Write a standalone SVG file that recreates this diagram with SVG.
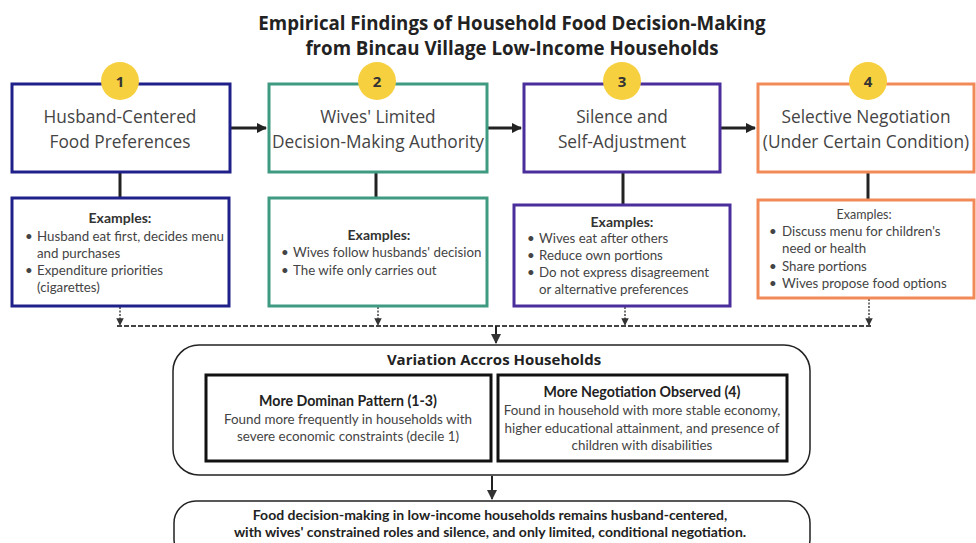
<svg xmlns="http://www.w3.org/2000/svg" width="976" height="543" viewBox="0 0 976 543">
<defs>
<style>
.title{font-family:"Open Sans","Liberation Sans",sans-serif;font-weight:700;font-size:18.7px;fill:#222;text-anchor:middle}
.head{font-family:"Open Sans","Liberation Sans",sans-serif;font-size:17.3px;fill:#444;text-anchor:middle}
.num{font-family:"Open Sans","Liberation Sans",sans-serif;font-weight:700;font-size:15px;fill:#333;text-anchor:middle}
.ex{font-family:Lato,"Liberation Sans",sans-serif;font-weight:700;font-size:14px;fill:#333;text-anchor:middle}
.exn{font-family:Lato,"Liberation Sans",sans-serif;font-size:12.5px;fill:#444;text-anchor:middle}
.b{font-family:Lato,"Liberation Sans",sans-serif;font-size:13.3px;fill:#444}
.vt{font-family:"Open Sans","Liberation Sans",sans-serif;font-weight:700;font-size:15px;fill:#222;text-anchor:middle}
.sh{font-family:Lato,"Liberation Sans",sans-serif;font-weight:700;font-size:14.2px;fill:#222;text-anchor:middle}
.st{font-family:Lato,"Liberation Sans",sans-serif;font-size:13.4px;fill:#444;text-anchor:middle}
.ft{font-family:Lato,"Liberation Sans",sans-serif;font-weight:700;font-size:14px;fill:#222;text-anchor:middle}
.badge{fill:#f6d03f}
.box{fill:#fff;stroke-width:3}
.solid{stroke:#222;stroke-width:3;fill:none}
.dash{stroke:#444;stroke-width:2;fill:none;stroke-dasharray:5 2}
.dot{stroke:#444;stroke-width:1.5;fill:none;stroke-dasharray:2 1.5}
</style>
<marker id="ah" viewBox="0 0 10 10" refX="9" refY="5" markerWidth="3.5" markerHeight="3.5" orient="auto"><path d="M0,0 L10,5 L0,10 z" fill="#222"/></marker>
<marker id="ahs" viewBox="0 0 10 10" refX="9" refY="5" markerWidth="5" markerHeight="5" orient="auto"><path d="M0,0 L10,5 L0,10 z" fill="#333"/></marker>
</defs>
<rect width="976" height="543" fill="#fff"/>
<g id="title">
<text class="title" x="512" y="30">Empirical Findings of Household Food Decision-Making</text>
<text class="title" x="512" y="55">from Bincau Village Low-Income Households</text>
</g>
<g id="connectors">
<line class="solid" x1="231" y1="128" x2="266" y2="128" marker-end="url(#ah)"/>
<line class="solid" x1="488" y1="128" x2="521" y2="128" marker-end="url(#ah)"/>
<line class="solid" x1="721" y1="128" x2="755" y2="128" marker-end="url(#ah)"/>
<line class="solid" x1="120" y1="173" x2="120" y2="197"/>
<line class="solid" x1="376" y1="173" x2="376" y2="197"/>
<line class="solid" x1="623" y1="173" x2="623" y2="205"/>
<line class="solid" x1="868" y1="173" x2="868" y2="200"/>
<line class="dot" x1="120" y1="307" x2="120" y2="325" marker-end="url(#ahs)"/>
<line class="dot" x1="378" y1="307" x2="378" y2="325" marker-end="url(#ahs)"/>
<line class="dot" x1="625" y1="307" x2="625" y2="325" marker-end="url(#ahs)"/>
<line class="dot" x1="869" y1="299" x2="869" y2="325" marker-end="url(#ahs)"/>
<line class="dash" x1="117" y1="326" x2="871" y2="326"/>
<line stroke="#222" stroke-width="2" x1="496" y1="326" x2="496" y2="343" marker-end="url(#ahs)"/>
<line stroke="#222" stroke-width="2" x1="492" y1="476" x2="492" y2="499" marker-end="url(#ahs)"/>
</g>
<g id="node1">
<rect class="box" x="12" y="84" width="218" height="88" stroke="#20208a"/>
<circle class="badge" cx="120" cy="81" r="19"/>
<text class="num" x="120" y="86.5">1</text>
<text class="head" x="120" y="123">Husband-Centered</text>
<text class="head" x="120" y="148">Food Preferences</text>
</g>
<g id="node2">
<rect class="box" x="269" y="84" width="218" height="88" stroke="#3e9a80"/>
<circle class="badge" cx="377" cy="81" r="19"/>
<text class="num" x="377" y="86.5">2</text>
<text class="head" x="378" y="123">Wives' Limited</text>
<text class="head" x="378" y="148">Decision-Making Authority</text>
</g>
<g id="node3">
<rect class="box" x="524" y="84" width="196" height="88" stroke="#4a2e9c"/>
<circle class="badge" cx="622" cy="81" r="19"/>
<text class="num" x="622" y="86.5">3</text>
<text class="head" x="622" y="123">Silence and</text>
<text class="head" x="622" y="148">Self-Adjustment</text>
</g>
<g id="node4">
<rect class="box" x="758" y="84" width="216" height="88" stroke="#f28a58"/>
<circle class="badge" cx="868" cy="81" r="19"/>
<text class="num" x="868" y="86.5">4</text>
<text class="head" x="866" y="123">Selective Negotiation</text>
<text class="head" x="866" y="148">(Under Certain Condition)</text>
</g>
<g id="ex1">
<rect class="box" x="12" y="198" width="217" height="108" stroke="#20208a"/>
<text class="ex" x="120" y="223">Examples:</text>
<text class="b" x="25" y="241">•</text><text class="b" x="37" y="241">Husband eat first, decides menu</text>
<text class="b" x="37" y="258">and purchases</text>
<text class="b" x="25" y="275">•</text><text class="b" x="37" y="275">Expenditure priorities</text>
<text class="b" x="37" y="292">(cigarettes)</text>
</g>
<g id="ex2">
<rect class="box" x="269" y="198" width="218" height="108" stroke="#3e9a80"/>
<text class="ex" x="379" y="240">Examples:</text>
<text class="b" x="281" y="257">•</text><text class="b" x="293" y="257">Wives follow husbands' decision</text>
<text class="b" x="281" y="275">•</text><text class="b" x="293" y="275">The wife only carries out</text>
</g>
<g id="ex3">
<rect class="box" x="514" y="205" width="216" height="101" stroke="#4a2e9c"/>
<text class="ex" x="622" y="227">Examples:</text>
<text class="b" x="527" y="243">•</text><text class="b" x="539" y="243">Wives eat after others</text>
<text class="b" x="527" y="260">•</text><text class="b" x="539" y="260">Reduce own portions</text>
<text class="b" x="527" y="277">•</text><text class="b" x="539" y="277">Do not express disagreement</text>
<text class="b" x="539" y="294">or alternative preferences</text>
</g>
<g id="ex4">
<rect class="box" x="758" y="200" width="216" height="98" stroke="#f28a58"/>
<text class="exn" x="864" y="219">Examples:</text>
<text class="b" x="769" y="236">•</text><text class="b" x="782" y="236">Discuss menu for children's</text>
<text class="b" x="782" y="253">need or health</text>
<text class="b" x="769" y="271">•</text><text class="b" x="782" y="271">Share portions</text>
<text class="b" x="769" y="288">•</text><text class="b" x="782" y="288">Wives propose food options</text>
</g>
<g id="variation">
<rect x="173" y="345" width="637" height="130" rx="26" fill="#fff" stroke="#222" stroke-width="1.5"/>
<text class="vt" x="494" y="365">Variation Accros Households</text>
</g>
<g id="dominant">
<rect x="206" y="375" width="285" height="86" fill="#fff" stroke="#111" stroke-width="3"/>
<text class="sh" x="348" y="406">More Dominan Pattern (1-3)</text>
<text class="st" x="348" y="424">Found more frequently in households with</text>
<text class="st" x="348" y="441">severe economic constraints (decile 1)</text>
</g>
<g id="negotiation">
<rect x="498" y="375" width="289" height="86" fill="#fff" stroke="#111" stroke-width="3"/>
<text class="sh" x="642" y="397">More Negotiation Observed (4)</text>
<text class="st" x="642" y="415">Found in household with more stable economy,</text>
<text class="st" x="642" y="433">higher educational attainment, and presence of</text>
<text class="st" x="642" y="450">children with disabilities</text>
</g>
<g id="conclusion">
<rect x="174" y="501" width="636" height="60" rx="22" fill="#fff" stroke="#222" stroke-width="1.5"/>
<text class="ft" x="490" y="520">Food decision-making in low-income households remains husband-centered,</text>
<text class="ft" x="490" y="537">with wives' constrained roles and silence, and only limited, conditional negotiation.</text>
</g>
</svg>
